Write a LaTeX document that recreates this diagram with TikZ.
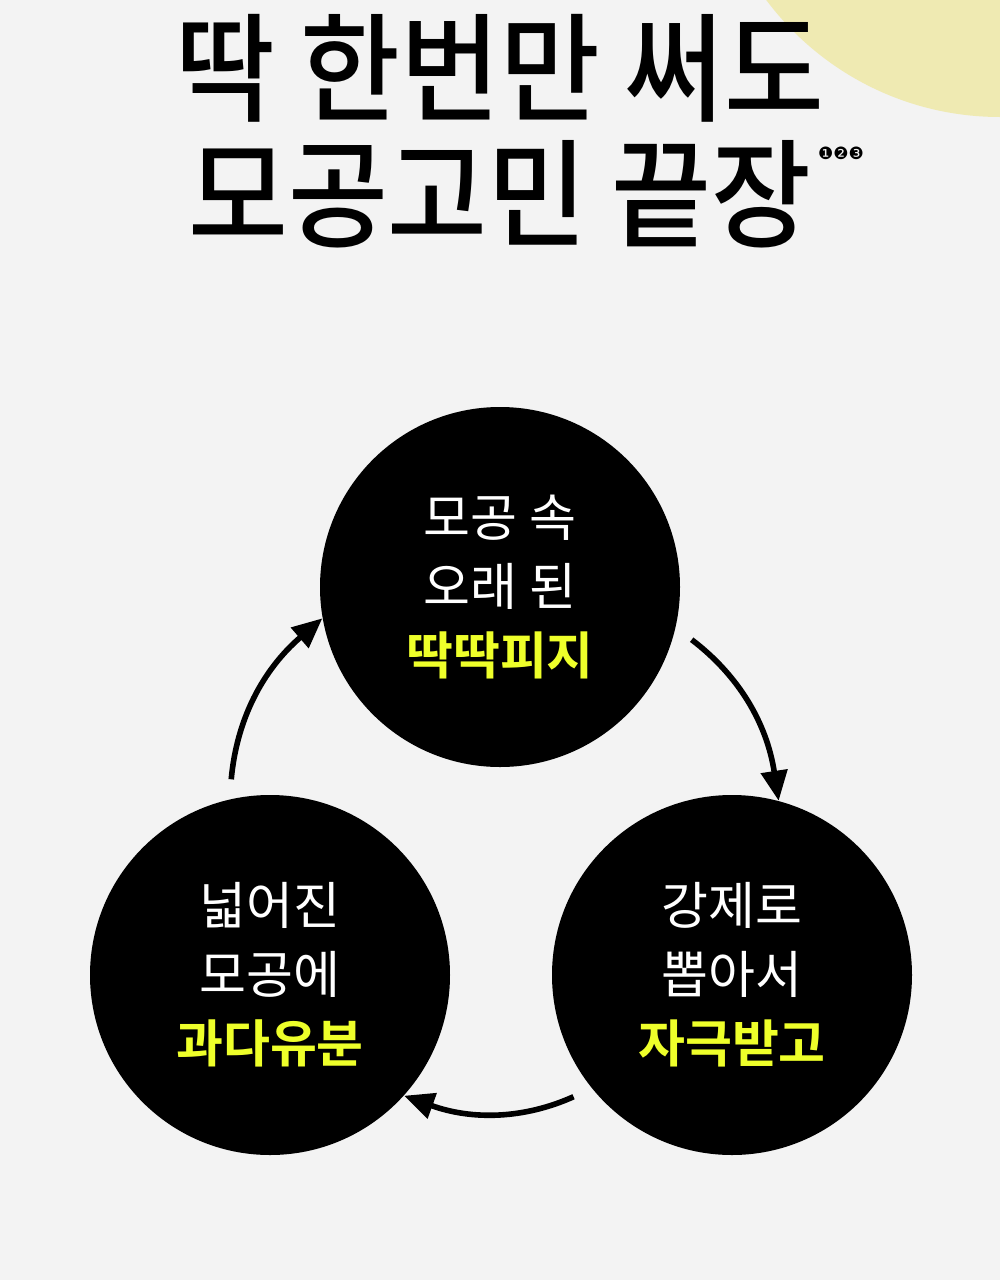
\documentclass[tikz,border=0pt]{standalone}
\usepackage{fontspec}
\setmainfont{Noto Sans CJK KR}[BoldFont={Noto Sans CJK KR Medium}]
\newfontfamily\heavyfont{Noto Sans CJK KR Bold}
\newfontfamily\numfont{DejaVu Sans}
\usetikzlibrary{arrows,arrows.meta,positioning,calc}
\definecolor{bgc}{HTML}{F3F3F3}
\definecolor{hilite}{HTML}{EEFF2A}
\definecolor{blobin}{HTML}{F0ECC0}
\definecolor{blobmid}{HTML}{EFEAB2}
\pgfdeclareradialshading{blob}{\pgfpoint{0bp}{0bp}}{color(0bp)=(blobmid); color(30bp)=(blobmid); color(44bp)=(blobin); color(50bp)=(bgc)}
\newcommand\hot[1]{\textcolor{hilite}{\heavyfont #1}}

\begin{document}
\begin{tikzpicture}[x=0.5pt,y=-0.5pt]
\tikzset{bubble/.style={circle,fill=black,minimum size=180pt,inner sep=0pt,
  text=white,align=center,font=\fontsize{25.5}{34.5}\selectfont}}
\tikzset{headline/.style={font=\fontsize{59}{60}\selectfont\bfseries}}
\tikzset{cycle/.style={line width=2.8pt,-{Triangle[length=15pt,width=13pt]},bend left=22,shorten <=10pt}}
% page and glow
\path[use as bounding box,fill=bgc] (0,0) rectangle (1000,1280);
\begin{scope}
\clip (0,0) rectangle (1000,1280);
\shade[shading=blob] (1000,-175) circle (292);
\end{scope}
% title
\node[headline] (line1) at (500,68) {\scalebox{0.92}[1]{딱 한번만 써도}};
\node[headline] (line2) at (500,194) {\scalebox{0.92}[1]{모공고민 끝장}};
\node[font=\numfont\fontsize{8.5}{9}\selectfont,inner sep=0pt] (refs) at (841,153) {❶❷❸};
% the cycle
\node[bubble] (pore) at (500,587) {모공 속\\오래 된\\\hot{딱딱피지}};
\node[bubble] (pull) at (732,975) {강제로\\뽑아서\\\hot{자극받고}};
\node[bubble] (oil) at (270,975) {넓어진\\모공에\\\hot{과다유분}};
\draw[cycle] (pore.-13) to (pull.75);
\draw[cycle] (pull.219) to (oil.-42);
\draw[cycle] (oil.103) to (pore.190);
\end{tikzpicture}
\end{document}
